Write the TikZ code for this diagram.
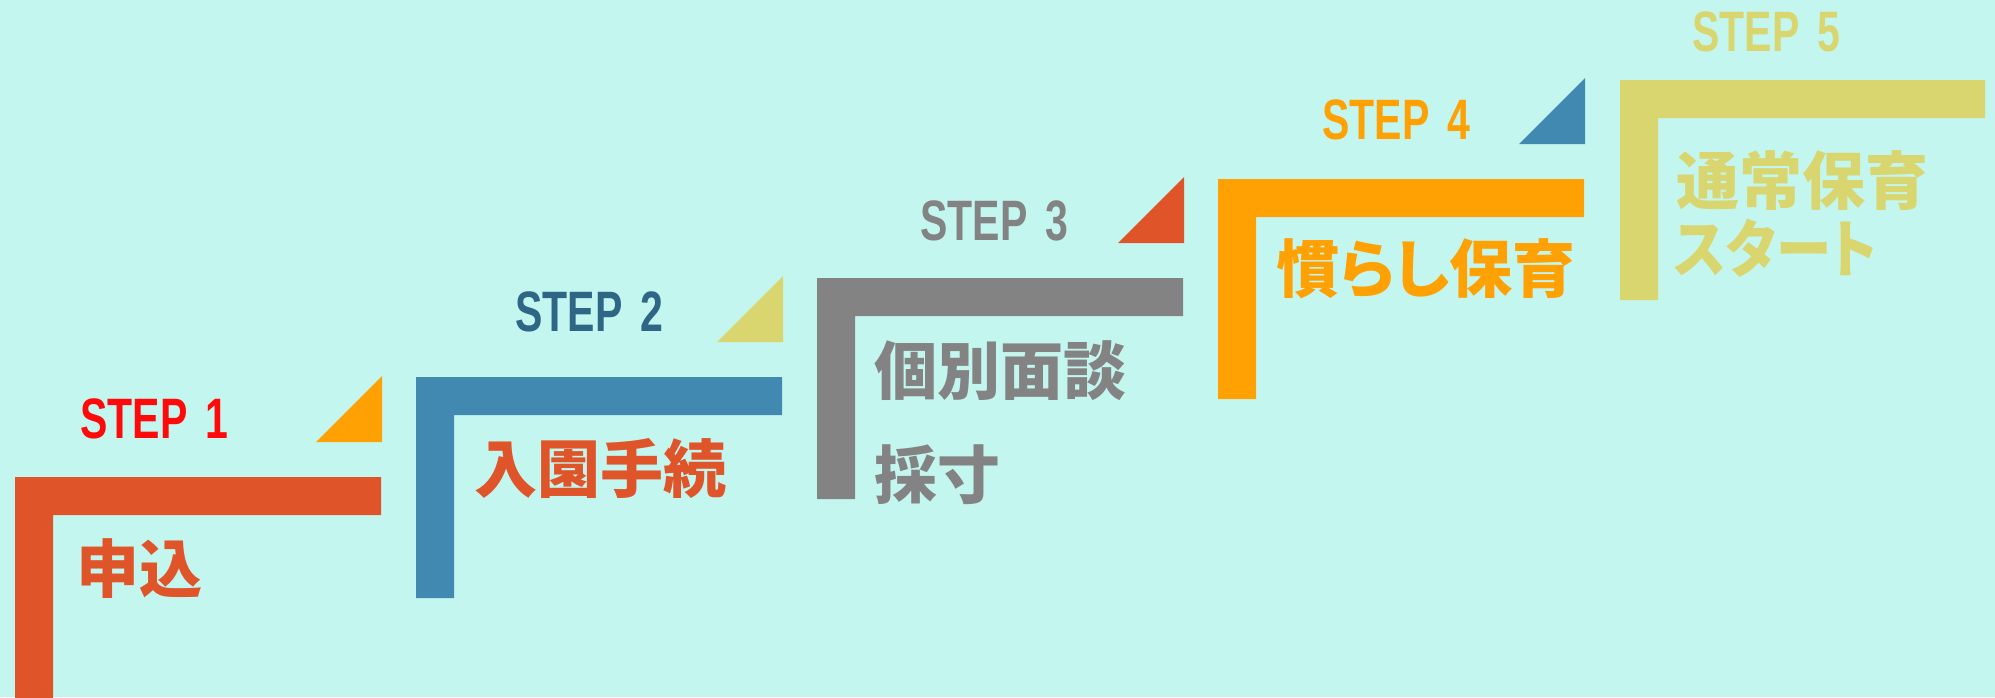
\documentclass[tikz,border=0pt]{standalone}
\usepackage{fontspec}
\setmainfont{Liberation Sans}
\newfontfamily\cjk{Noto Sans CJK JP}[BoldFont={Noto Sans CJK JP Black},RawFeature=+palt]
\definecolor{bgc}{HTML}{C4F6F0}
\definecolor{cred}{HTML}{E0542A}
\definecolor{corange}{HTML}{FFA003}
\definecolor{cblue}{HTML}{4289B2}
\definecolor{cdblue}{HTML}{2F6585}
\definecolor{cgray}{HTML}{838383}
\definecolor{ckhaki}{HTML}{D9D66F}
\definecolor{cpure}{HTML}{FF0A0A}
\tikzset{
  steplabel/.style={inner sep=0pt, anchor=base west, font=\fontsize{57}{60}\selectfont\bfseries},
  jptext/.style={inner sep=0pt, anchor=base west, font=\cjk\fontsize{63}{70}\selectfont\bfseries},
}
\newcommand{\stp}[1]{\scalebox{0.72}[1]{STEP\hspace{0.45em}#1}}
\begin{document}
\begin{tikzpicture}[x=1pt,y=-1pt]
\useasboundingbox (0,0) rectangle (1995,697);
\fill[bgc] (0,0) rectangle (1995,697);
\begin{scope}
\clip (0,0) rectangle (1995,697);
% brackets
\fill[cred]    (15,477) -- (381,477) -- (381,515) -- (53,515) -- (53,720) -- (15,720) -- cycle;
\fill[cblue]   (416,377) -- (782,377) -- (782,415) -- (454,415) -- (454,598) -- (416,598) -- cycle;
\fill[cgray]   (817,278) -- (1183,278) -- (1183,316) -- (855,316) -- (855,499) -- (817,499) -- cycle;
\fill[corange] (1218,179) -- (1584,179) -- (1584,217) -- (1256,217) -- (1256,399) -- (1218,399) -- cycle;
\fill[ckhaki]  (1620,80) -- (1985,80) -- (1985,118) -- (1658,118) -- (1658,300) -- (1620,300) -- cycle;
% triangles
\fill[corange] (316,442) -- (382,442) -- (382,376) -- cycle;
\fill[ckhaki]  (717,342) -- (783,342) -- (783,276) -- cycle;
\fill[cred]    (1118,243) -- (1184,243) -- (1184,177) -- cycle;
\fill[cblue]   (1519,144) -- (1585,144) -- (1585,78) -- cycle;
\end{scope}
% step labels
\node[steplabel, text=cpure]  (s1) at (80,438)  {\stp{1}};
\node[steplabel, text=cdblue] (s2) at (515,331) {\stp{2}};
\node[steplabel, text=cgray]  (s3) at (920,240) {\stp{3}};
\node[steplabel, text=corange](s4) at (1322,139) {\stp{4}};
\node[steplabel, text=ckhaki] (s5) at (1692,51)  {\stp{5}};
% japanese texts
\node[jptext, text=cred]    (t1)  at (76,592)   {申込};
\node[jptext, text=cred]    (t2)  at (474,492)  {入園手続};
\node[jptext, text=cgray]   (t3a) at (874,394)  {個別面談};
\node[jptext, text=cgray]   (t3b) at (874,498)  {採寸};
\node[jptext, text=corange] (t4)  at (1276,292) {慣らし保育};
\node[jptext, text=ckhaki]  (t5a) at (1676,204) {通常保育};
\node[jptext, text=ckhaki]  (t5b) at (1674,272) {\scalebox{0.88}[1]{スタート}};
\end{tikzpicture}
\end{document}
